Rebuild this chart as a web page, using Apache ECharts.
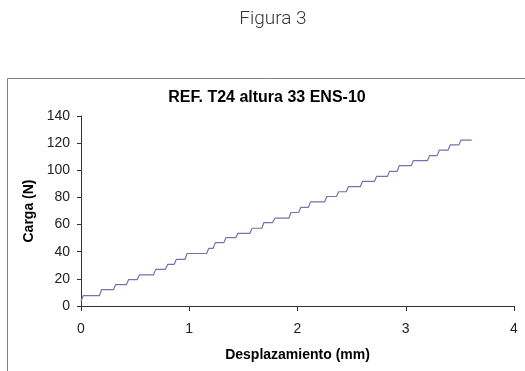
<!DOCTYPE html>
<html>
<head>
<meta charset="utf-8">
<script src="https://cdn.jsdelivr.net/npm/echarts@6/dist/echarts.min.js"></script>
<style>
  html, body { margin: 0; padding: 0; background: #fff; }
  #chart { width: 525px; height: 371px; }
</style>
</head>
<body>
<div id="chart"></div>
<script>
// puntos de la curva escalonada (desplazamiento mm, carga N)
const dispX = [0.00, 0.02, 0.17, 0.19, 0.30, 0.32, 0.42, 0.44, 0.52, 0.54, 0.67, 0.69, 0.78, 0.80, 0.86, 0.88,
  0.96, 0.98, 1.16, 1.18, 1.22, 1.24, 1.32, 1.34, 1.43, 1.45, 1.56, 1.58, 1.67, 1.69, 1.77, 1.79,
  1.92, 1.94, 2.01, 2.03, 2.10, 2.12, 2.25, 2.27, 2.36, 2.38, 2.45, 2.47, 2.58, 2.60, 2.71, 2.73,
  2.83, 2.85, 2.92, 2.94, 3.05, 3.07, 3.20, 3.22, 3.29, 3.31, 3.39, 3.41, 3.49, 3.51, 3.61]
const loadY = [3.5, 7.6, 7.6, 12, 12, 15.8, 15.8, 19.5, 19.5, 23, 23, 27, 27, 30.6, 30.6, 34.3,
  34.3, 38.7, 38.7, 42.4, 42.4, 46.7, 46.7, 50.4, 50.4, 53.5, 53.5, 57.3, 57.3, 61.5, 61.5, 64.7,
  64.7, 68.9, 68.9, 72.6, 72.6, 76.7, 76.7, 80.7, 80.7, 84.2, 84.2, 87.9, 87.9, 91.8, 91.8, 95.5,
  95.5, 99.2, 99.2, 103.4, 103.4, 107.1, 107.1, 110.8, 110.8, 114.8, 114.8, 118.7, 118.7, 122.2, 122.2]

const figTitle = 'Figura 3'
const chartTitle = 'REF. T24 altura 33 ENS-10'
const xName = 'Desplazamiento (mm)'
const yName = 'Carga (N)'

const chart = echarts.init(document.getElementById('chart'))
chart.setOption({
  animation: false,
  graphic: [{
    type: 'rect',
    shape: { x: 7.5, y: 78.5, width: 600, height: 400 },
    style: { fill: 'none', stroke: '#7f7f7f', lineWidth: 1 },
    silent: true
  }],
  title: [{
    text: figTitle,
    left: 268,
    textAlign: 'center',
    top: 5,
    textStyle: { fontFamily: 'Roboto', fontWeight: 300, fontSize: 19, color: '#333' }
  }, {
    text: chartTitle,
    left: 262,
    textAlign: 'center',
    top: 85,
    textStyle: { fontFamily: 'Liberation Sans', fontWeight: 'bold', fontSize: 16, color: '#000' }
  }],
  grid: { left: 81, right: 11, top: 116, bottom: 65 },
  xAxis: {
    type: 'value',
    min: 0,
    max: 4,
    interval: 1,
    name: xName,
    nameLocation: 'middle',
    nameGap: 42,
    nameTextStyle: { fontFamily: 'Liberation Sans', fontWeight: 'bold', fontSize: 14, color: '#000' },
    splitLine: { show: false },
    axisLine: { lineStyle: { color: '#333', width: 1 } },
    axisTick: { show: true, length: 5, lineStyle: { color: '#333' } },
    axisLabel: { margin: 16, fontFamily: 'Liberation Sans', fontSize: 14, color: '#222' }
  },
  yAxis: {
    type: 'value',
    min: 0,
    max: 140,
    interval: 20,
    name: yName,
    nameLocation: 'middle',
    nameGap: 45,
    nameTextStyle: { fontFamily: 'Liberation Sans', fontWeight: 'bold', fontSize: 14, color: '#000' },
    splitLine: { show: false },
    axisLine: { show: true, lineStyle: { color: '#333', width: 1 } },
    axisTick: { show: true, length: 4, lineStyle: { color: '#333' } },
    axisLabel: { margin: 11, fontFamily: 'Liberation Sans', fontSize: 14, color: '#222' }
  },
  series: [{
    type: 'line',
    data: dispX.map((x, i) => [x, loadY[i]]),
    showSymbol: false,
    lineStyle: { color: '#7373b3', width: 1.2 }
  }]
})
</script>
</body>
</html>
